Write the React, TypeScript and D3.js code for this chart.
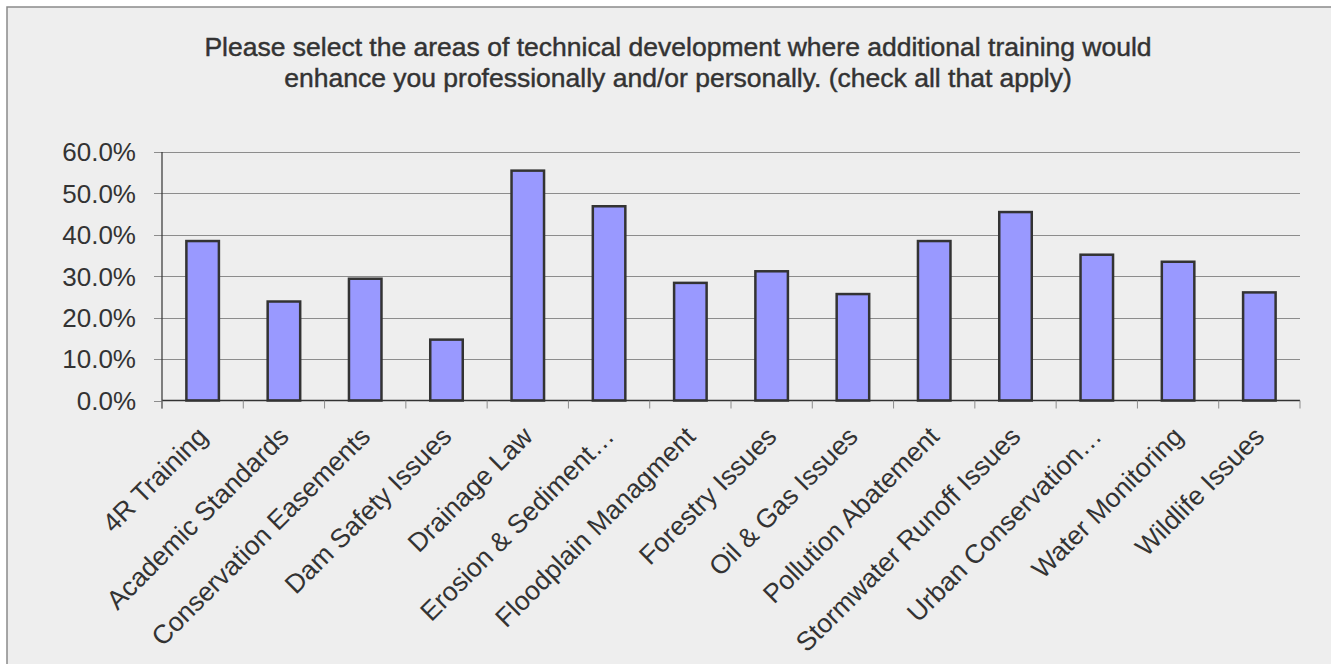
import React from "react";
import * as d3 from "d3";

const categories = [
  "4R Training",
  "Academic Standards",
  "Conservation Easements",
  "Dam Safety Issues",
  "Drainage Law",
  "Erosion & Sediment…",
  "Floodplain Managment",
  "Forestry Issues",
  "Oil & Gas Issues",
  "Pollution Abatement",
  "Stormwater Runoff Issues",
  "Urban Conservation…",
  "Water Monitoring",
  "Wildlife Issues",
];
const values = [38.5, 23.9, 29.4, 14.7, 55.5, 46.9, 28.4, 31.2, 25.7, 38.5, 45.5, 35.2, 33.5, 26.1];
const yTicks = [0, 10, 20, 30, 40, 50, 60];
const titleLines = [
  "Please select the areas of technical development where additional training would",
  "enhance you professionally and/or personally. (check all that apply)",
];

const W = 1331;
const H = 664;
const plot = { left: 162, right: 1300, top: 152, bottom: 400.5 };
const FONT = "'Liberation Sans', Arial, Helvetica, sans-serif";

export default function App() {
  const x = d3
    .scaleBand<string>()
    .domain(categories)
    .range([plot.left, plot.right])
    .paddingInner(0.6)
    .paddingOuter(0.3);
  const step = (plot.right - plot.left) / categories.length;
  const y = d3.scaleLinear().domain([0, 60]).range([plot.bottom, plot.top]);
  const tickXs = d3.range(categories.length + 1).map((i) => plot.left + i * step);

  return (
    <svg
      width={W}
      height={H}
      style={{ position: "absolute", left: 0, top: 0, display: "block", background: "#fff" }}
      fontFamily={FONT}
    >
      <rect x={7} y={7} width={W} height={H} fill="#eeeeee" stroke="#8a8a8a" strokeWidth={1.5} />
      {titleLines.map((t, i) => (
        <text
          key={i}
          x={678}
          y={56 + i * 31}
          textAnchor="middle"
          fontSize={26.5}
          fill="#333"
          stroke="#333"
          strokeWidth={0.45}
        >
          {t}
        </text>
      ))}
      {yTicks.map((t) => (
        <g key={t}>
          <line
            x1={plot.left - 8}
            x2={t === 0 ? plot.left : plot.right}
            y1={Math.round(y(t)) + 0.5}
            y2={Math.round(y(t)) + 0.5}
            stroke="#8c8c8c"
            strokeWidth={1}
          />
          <text
            x={136}
            y={y(t)}
            dy="0.36em"
            textAnchor="end"
            fontSize={26}
            fill="#333"
          >
            {d3.format(".1f")(t) + "%"}
          </text>
        </g>
      ))}
      {categories.map((c, i) => (
        <rect
          key={c}
          x={x(c)}
          y={y(values[i])}
          width={x.bandwidth()}
          height={y(0) - y(values[i])}
          fill="#9999ff"
          stroke="#333"
          strokeWidth={2.5}
        />
      ))}
      <line x1={plot.left} x2={plot.left} y1={plot.top} y2={plot.bottom + 8} stroke="#333" strokeWidth={1.2} />
      <line x1={plot.left} x2={plot.right} y1={plot.bottom} y2={plot.bottom} stroke="#333" strokeWidth={1.5} />
      {tickXs.map((tx, i) => (
        <line key={i} x1={tx} x2={tx} y1={plot.bottom} y2={plot.bottom + 8} stroke="#8c8c8c" strokeWidth={1} />
      ))}
      {categories.map((c) => {
        const cx = (x(c) as number) + x.bandwidth() / 2;
        return (
          <text
            key={c}
            transform={`translate(${cx},${plot.bottom + 31}) rotate(-45)`}
            textAnchor="end"
            dy="0.35em"
            fontSize={26.5}
            fill="#333"
          >
            {c}
          </text>
        );
      })}
    </svg>
  );
}
